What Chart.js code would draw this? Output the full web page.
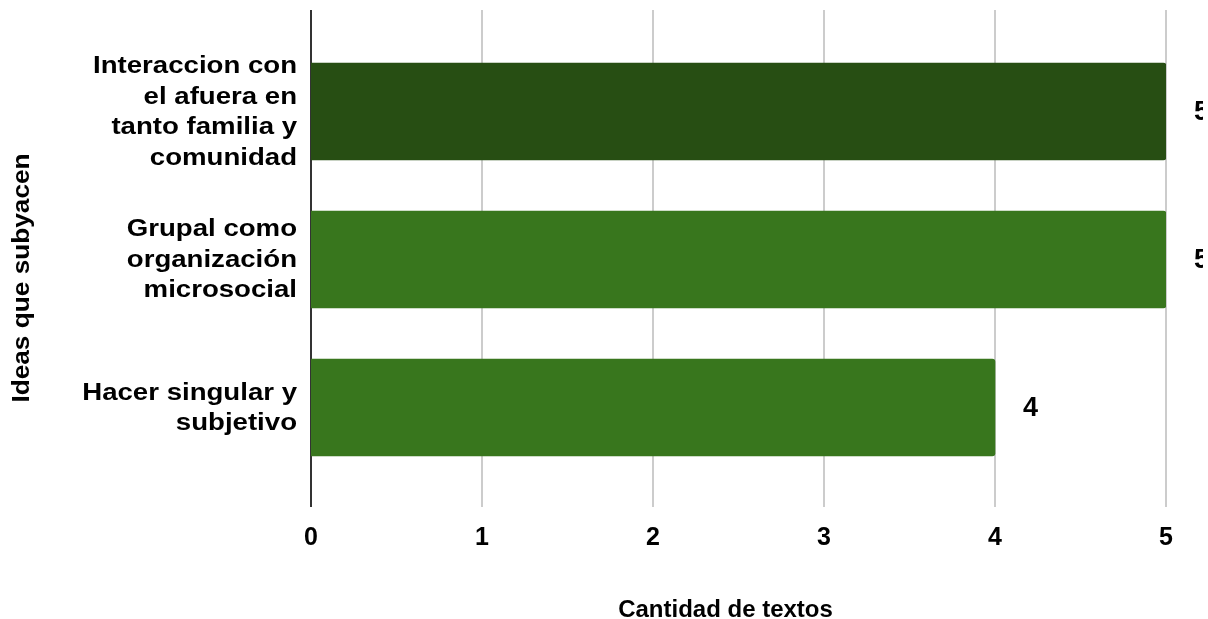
<!DOCTYPE html>
<html>
<head>
<meta charset="utf-8">
<script src="https://cdn.jsdelivr.net/npm/chart.js@4"></script>
<style>
  html, body { margin: 0; padding: 0; background: #fff; }
  #wrap { width: 1208px; height: 619px; position: relative; }
</style>
</head>
<body>
<div id="wrap"><canvas id="c" width="1208" height="619"></canvas></div>
<script>
// Categories (one entry per bar, multi-line labels)
const categories = [
  ["Interaccion con", "el afuera en", "tanto familia y", "comunidad"],
  ["Grupal como", "organización", "microsocial"],
  ["Hacer singular y", "subjetivo"]
];
// Number of texts per idea
const values = [5, 5, 4];
const barColors = ["#274e13", "#38761d", "#38761d"];
const xTicks = [0, 1, 2, 3, 4, 5];
const yTitle = "Ideas que subyacen";
const xTitle = "Cantidad de textos";

const FONT = "'Liberation Sans', Arial, sans-serif";
const GRID_TOP = 10;
const GRID_BOTTOM = 507;

// Vertical grid lines and the zero axis line, spanning the full plot frame
const frameGrid = {
  id: 'frameGrid',
  beforeDatasetsDraw(chart) {
    const ctx = chart.ctx;
    const xs = chart.scales.x;
    ctx.save();
    xTicks.forEach(v => {
      const px = Math.round(xs.getPixelForValue(v));
      ctx.beginPath();
      ctx.strokeStyle = v === 0 ? '#333333' : '#cccccc';
      ctx.lineWidth = 2;
      ctx.moveTo(px, GRID_TOP);
      ctx.lineTo(px, GRID_BOTTOM);
      ctx.stroke();
    });
    ctx.restore();
  }
};

// Horizontally widened text, as the labels of this chart are set
function wideText(ctx, text, x, y, sx) {
  ctx.save();
  ctx.translate(x, y);
  ctx.scale(sx, 1);
  ctx.fillText(text, 0, 0);
  ctx.restore();
}

// Category labels and both axis titles, placed from the chart's scales
const axisText = {
  id: 'axisText',
  afterDraw(chart) {
    const ctx = chart.ctx;
    const ys = chart.scales.y;
    const xs = chart.scales.x;
    ctx.save();
    ctx.fillStyle = '#000';
    ctx.font = "bold 23px " + FONT;
    ctx.textAlign = 'right';
    ctx.textBaseline = 'alphabetic';
    const lineGap = 30.5;
    categories.forEach((lines, i) => {
      const cy = ys.getPixelForValue(i) - 1;
      lines.forEach((line, j) => {
        const y = cy + (j - (lines.length - 1) / 2) * lineGap + 8.3;
        wideText(ctx, line, 297, y, 1.2);
      });
    });
    ctx.restore();

    ctx.save();
    ctx.fillStyle = '#000';
    ctx.font = "bold 23px " + FONT;
    ctx.textAlign = 'center';
    ctx.textBaseline = 'middle';
    ctx.translate(23, 278);
    ctx.rotate(-Math.PI / 2);
    wideText(ctx, yTitle, 0, 0, 1.14);
    ctx.restore();

    ctx.save();
    ctx.fillStyle = '#000';
    ctx.font = "bold 24px " + FONT;
    ctx.textAlign = 'center';
    ctx.textBaseline = 'alphabetic';
    ctx.fillText(xTitle, (xs.left + xs.right) / 2 - 13, 617);
    ctx.restore();
  }
};

// Value labels to the right of each bar
const valueLabels = {
  id: 'valueLabels',
  afterDatasetsDraw(chart) {
    const ctx = chart.ctx;
    const meta = chart.getDatasetMeta(0);
    ctx.save();
    ctx.beginPath();
    ctx.rect(0, 0, 1203, chart.height);
    ctx.clip();
    ctx.font = "bold 27px " + FONT;
    ctx.fillStyle = "#000";
    ctx.textAlign = "left";
    ctx.textBaseline = "middle";
    meta.data.forEach((bar, i) => {
      ctx.fillText(String(values[i]), bar.x + 28, bar.y + 1);
    });
    ctx.restore();
  }
};

new Chart(document.getElementById('c'), {
  type: 'bar',
  data: {
    labels: categories.map(c => c.join(' ')),
    datasets: [{
      data: values,
      backgroundColor: barColors,
      borderRadius: 3,
      borderSkipped: 'start',
      barThickness: 97
    }]
  },
  options: {
    indexAxis: 'y',
    responsive: false,
    animation: false,
    layout: { padding: { top: 37.5, right: 42, bottom: 0, left: 0 } },
    plugins: { legend: { display: false }, tooltip: { enabled: false } },
    scales: {
      x: {
        type: 'linear',
        min: 0,
        max: 5,
        afterBuildTicks(scale) { scale.ticks = xTicks.map(v => ({ value: v })); },
        afterFit(scale) {
          scale.height = 137.5;
          scale.paddingLeft = 0;
          scale.paddingRight = 0;
        },
        ticks: {
          color: '#000',
          font: { family: FONT, size: 25, weight: 'bold', lineHeight: 1.0 },
          padding: 44
        },
        grid: { display: false, drawTicks: false },
        border: { display: false },
        title: { display: false }
      },
      y: {
        type: 'category',
        offset: true,
        ticks: { display: false },
        grid: { display: false },
        border: { display: false },
        afterFit(scale) { scale.width = 311; }
      }
    }
  },
  plugins: [frameGrid, axisText, valueLabels]
});
</script>
</body>
</html>
